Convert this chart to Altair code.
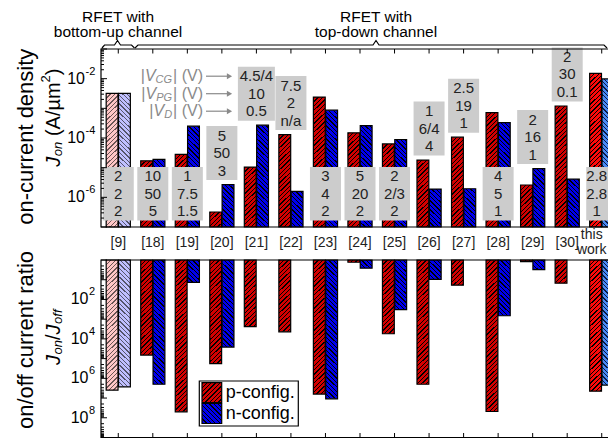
import math
import altair as alt
import pandas as pd

# ---------------- data ----------------
refs = ["[9]", "[18]", "[19]", "[20]", "[21]", "[22]", "[23]", "[24]", "[25]",
        "[26]", "[27]", "[28]", "[29]", "[30]", "this work"]
jon_p = [3.2e-3, 1.7e-5, 2.8e-5, 3.2e-7, 1.05e-5, 1.3e-4, 2.4e-3, 1.5e-4, 6.3e-5,
         1.8e-5, 1.07e-4, 7.2e-4, 2.6e-6, 1.2e-3, 1.5e-2]
jon_n = [3.2e-3, 1.9e-5, 2.5e-4, 2.7e-6, 2.7e-4, 1.6e-6, 8.7e-4, 2.6e-4, 8.9e-5,
         1.9e-6, 1.95e-6, 3.3e-4, 9.3e-6, 4.1e-6, 9.8e-3]
ratio_p = [4.0e6, 6.6e4, 5.0e7, 1.8e5, 2.4e3, 4.4e3, 6.3e6, 1.3, 5.5e3,
           2.0e6, 19, 4.8e7, 1.2, 15, 4.5e6]
ratio_n = [2.7e6, 2.0e6, 13.5, 2.6e4, None, None, 1.1e7, 2.6, 330,
           9.5, None, 670, 3.1, None, 2.2e6]
v_cg = ["2", "10", "1", "5", "4.5/4", "7.5", "3", "5", "2", "1", "2.5", "4", "2", "2", "2.8"]
v_pg = ["2", "50", "7.5", "50", "10", "2", "4", "20", "2/3", "6/4", "19", "5", "16", "30", "2.8"]
v_d = ["2", "5", "1.5", "3", "0.5", "n/a", "2", "2", "2", "4", "1", "1", "1", "0.1", "1"]
box_place = ["low", "low", "low", "high", "high", "high", "low", "low", "low",
             "high", "high", "low", "high", "high", "low"]
top_exp = ["-2", "-4", "-6"]
bot_exp = ["2", "4", "6", "8"]

# ---------------- styling / layout ----------------
FONT = "Liberation Sans"
# (base colour, hatch line colour)
STYLE = {
    "p": ("#d40000", "#000000"), "n": ("#0000ee", "#000000"),
    "p9": ("#ffc6c6", "#6a5555"), "n9": ("#c0c0ff", "#55556a"),
    "pt": ("#ff0a0a", "#000000"), "nt": ("#4a8af5", "#0a1a40"),
}
BOX_GRAY = "#cccccc"
ANN_GRAY = "#8a8a8a"

W = 507                      # keeps the svg at 600 px wide (no rescaling)
TOP_H = 178.0
BOT_Y0, BOT_Y1 = 211.0, 388.5
FRAME_R = 513.5
PX_DEC = TOP_H / 6.0
PX_DEC_B = (BOT_Y1 - BOT_Y0) / 9.0
TOP_DOM = [1e-7, 1e-1]
BOT_DOM = [1, 1e9]
X_RANGE = 518.0
PAD_IN = 0.3
OFF_PAD = 0.04

top_scale = alt.Scale(type="log", domain=TOP_DOM, range=[TOP_H, 0], nice=False)
bot_scale = alt.Scale(type="log", domain=BOT_DOM, range=[BOT_Y0, BOT_Y1], nice=False)
x_scale = alt.Scale(domain=refs, range=[0, X_RANGE], paddingInner=PAD_IN, paddingOuter=PAD_IN / 2)
xoff_scale = alt.Scale(domain=["p", "n"], paddingInner=OFF_PAD)

step = X_RANGE / len(refs)
bandw = step * (1 - PAD_IN)
BAR_W = bandw / (2 - OFF_PAD + OFF_PAD) * (1 - OFF_PAD)


def top_px(v):
    return (-1 - math.log10(v)) * PX_DEC


def px_top(px):
    return 10 ** (-1 - px / PX_DEC)


def hatch(base, line, w, h, slash, period=4.4, lw=1.3):
    """linear gradient with hard stops that draws 45 degree hatching in a w x h box"""
    L = w + h
    s = L / (w * w + h * h)
    stops = []
    k = 0
    while True:
        a = k * period / L
        if a >= 1:
            break
        b = min((k * period + lw) / L, 1.0)
        nxt = min((k + 1) * period / L, 1.0)
        stops += [{"offset": a, "color": line}, {"offset": b, "color": line},
                  {"offset": b, "color": base}, {"offset": nxt, "color": base}]
        k += 1
    g = {"gradient": "linear", "stops": stops, "x1": 0, "x2": s * w}
    if slash:
        g.update({"y1": 0, "y2": s * h})
    else:
        g.update({"y1": 1, "y2": 1 - s * h})
    return g


def style_key(ref, cfg):
    if ref == "[9]":
        return cfg + "9"
    if ref == "this work":
        return cfg + "t"
    return cfg


rows_t, rows_b = [], []
for i, r in enumerate(refs):
    for cfg, v in [("p", jon_p[i]), ("n", jon_n[i])]:
        base, line = STYLE[style_key(r, cfg)]
        h = TOP_H - top_px(v)
        rows_t.append({"ref": r, "cfg": cfg, "v": v, "base": TOP_DOM[0],
                       "grad": hatch(base, line, BAR_W, h, cfg == "p")})
    for cfg, v in [("p", ratio_p[i]), ("n", ratio_n[i])]:
        if v is None:
            continue
        base, line = STYLE[style_key(r, cfg)]
        h = max(math.log10(v) * PX_DEC_B, 0.5)
        rows_b.append({"ref": r, "cfg": cfg, "v": v, "base": BOT_DOM[0],
                       "grad": hatch(base, line, BAR_W, h, cfg == "p")})

box_rows = []
for i, r in enumerate(refs):
    if box_place[i] == "low":
        t_px, b_px = 118.0, 171.5
    else:
        b_px = top_px(max(jon_p[i], jon_n[i])) - 4.5
        t_px = b_px - 54.0
    m_px = (t_px + b_px) / 2
    box_rows.append({"ref": r, "btop": px_top(t_px), "bbot": px_top(b_px), "bmid": px_top(m_px),
                     "l1": v_cg[i], "l2": v_pg[i], "l3": v_d[i], "mpx": m_px})
df_box = pd.DataFrame(box_rows)
mid21 = df_box.loc[df_box.ref == "[21]", "mpx"].iloc[0]

dummy = pd.DataFrame({"a": [0]})


def log_ticks(e0, e1):
    out = []
    for e in range(e0, e1):
        for k in range(1, 10):
            out.append({"v": k * 10.0 ** e, "major": k == 1})
    out.append({"v": 10.0 ** e1, "major": True})
    return pd.DataFrame(out)


ticks_top = log_ticks(-7, -1)
ticks_bot = log_ticks(0, 9)


def X():
    return alt.X("ref:N", scale=x_scale, axis=None)


def txt(t, x, y, **kw):
    kw.setdefault("font", FONT)
    return alt.Chart(dummy).mark_text(**kw).encode(
        x=alt.value(x), y=alt.value(y), text=alt.value(t))


layers = []

# bars (hatched)
for rows, sc in [(rows_t, top_scale), (rows_b, bot_scale)]:
    layers.append(alt.Chart(alt.Data(values=rows)).mark_bar(stroke="black", strokeWidth=1.2).encode(
        x=X(), xOffset=alt.XOffset("cfg:N", scale=xoff_scale),
        y=alt.Y("v:Q", scale=sc, axis=None), y2=alt.Y2("base:Q"),
        fill=alt.Fill("grad:N", scale=None)))

# grey boxes with the three bias values
layers.append(alt.Chart(df_box).mark_bar(fill=BOX_GRAY).encode(
    x=X(),
    y=alt.Y("btop:Q", scale=top_scale, axis=None), y2="bbot:Q",
    size=alt.condition("datum.ref == '[21]'", alt.value(37), alt.value(31))))
for fld, off in [("l1", -17.5), ("l2", 0), ("l3", 17.5)]:
    for flt, ddx in [("datum.ref != 'this work'", 0), ("datum.ref == 'this work'", -5)]:
        layers.append(alt.Chart(df_box).transform_filter(flt).mark_text(
            font=FONT, fontSize=15, baseline="middle", color="#222222", dy=off, dx=ddx).encode(
            x=X(), y=alt.Y("bmid:Q", scale=top_scale, axis=None), text=f"{fld}:N"))

# frames
for y0, y1 in [(0, TOP_H), (BOT_Y0, BOT_Y1)]:
    layers.append(alt.Chart(dummy).mark_rect(fillOpacity=0, stroke="black", strokeWidth=1.2).encode(
        x=alt.value(0), x2=alt.value(FRAME_R), y=alt.value(y0), y2=alt.value(y1)))

# inward log ticks on the left frame edge
for tdf, sc in [(ticks_top, top_scale), (ticks_bot, bot_scale)]:
    for is_major, ln in [(True, 6), (False, 3)]:
        flt = "datum.major" if is_major else "!datum.major"
        layers.append(alt.Chart(tdf).transform_filter(flt).mark_rule(
            color="black", strokeWidth=1).encode(
            x=alt.value(0), x2=alt.value(ln), y=alt.Y("v:Q", scale=sc, axis=None)))

# category ticks (inward)
df_refs = pd.DataFrame({"ref": refs})
layers.append(alt.Chart(df_refs).mark_rule(color="black", strokeWidth=1).encode(
    x=X(), y=alt.value(0), y2=alt.value(4.5)))
layers.append(alt.Chart(df_refs).mark_rule(color="black", strokeWidth=1).encode(
    x=X(), y=alt.value(BOT_Y1 - 4.5), y2=alt.value(BOT_Y1)))

# category labels between panels
layers.append(alt.Chart(df_refs).transform_filter("datum.ref != 'this work'").mark_text(
    font=FONT, fontSize=14, baseline="middle", color="#222222").encode(
    x=X(), y=alt.value(194), text="ref:N"))
for word, yy in [("this", 186), ("work", 200.5)]:
    layers.append(alt.Chart(df_refs).transform_filter("datum.ref == 'this work'").mark_text(
        font=FONT, fontSize=14, baseline="middle", color="#222222", dx=-10).encode(
        x=X(), y=alt.value(yy), text=alt.value(word)))

# y tick labels 10^n
df_te = pd.DataFrame({"v": [1e-2, 1e-4, 1e-6], "e": top_exp})
df_be = pd.DataFrame({"v": [1e2, 1e4, 1e6, 1e8], "e": bot_exp})
layers.append(alt.Chart(df_te).mark_text(font=FONT, fontSize=16, align="right", baseline="middle").encode(
    x=alt.value(-16), y=alt.Y("v:Q", scale=top_scale, axis=None), text=alt.value("10")))
layers.append(alt.Chart(df_te).mark_text(font=FONT, fontSize=11, align="left", baseline="middle", dy=-7).encode(
    x=alt.value(-15.5), y=alt.Y("v:Q", scale=top_scale, axis=None), text="e:N"))
layers.append(alt.Chart(df_be).mark_text(font=FONT, fontSize=16, align="right", baseline="middle").encode(
    x=alt.value(-12.5), y=alt.Y("v:Q", scale=bot_scale, axis=None), text=alt.value("10")))
layers.append(alt.Chart(df_be).mark_text(font=FONT, fontSize=11, align="left", baseline="middle", dy=-7).encode(
    x=alt.value(-12), y=alt.Y("v:Q", scale=bot_scale, axis=None), text="e:N"))

# axis titles (rotated, composed pieces)
TX, JX = -75, -47
layers.append(txt("on-current density", TX, 87.7, angle=270, align="center", fontSize=22))
layers.append(txt("on/off current ratio", TX, 291, angle=270, align="center", fontSize=22))
top_pieces = [("J", 0, 0, 20, "italic"), ("on", 10.5, 4, 13, "italic"),
              ("(A/\u00b5m", 30.6, 0, 20, "normal"), ("2", 84.3, -8, 13, "normal"),
              (")", 91.5, 0, 20, "normal")]
for t, dx, dy, fs, st in top_pieces:
    layers.append(txt(t, JX, 117.7, angle=270, align="left", fontSize=fs, fontStyle=st, dx=dx, dy=dy))
bot_pieces = [("J", 0, 0, 20, "italic"), ("on", 10.5, 4, 13, "italic"),
              ("/", 25, 0, 20, "normal"), ("J", 30.6, 0, 20, "italic"),
              ("off", 41.1, 4, 13, "italic")]
for t, dx, dy, fs, st in bot_pieces:
    layers.append(txt(t, JX, 316, angle=270, align="left", fontSize=fs, fontStyle=st, dx=dx, dy=dy))

# |V| annotation with arrows
vl = pd.DataFrame({"sub": ["CG", "PG", "D"],
                   "py": [mid21 - 17.5, mid21, mid21 + 17.5],
                   "xs": [71.1, 71.1, 71.1],
                   "xv": [54.6, 55.2, 63.2],
                   "xp": [43.9, 44.5, 52.5]})
enc_y = alt.Y("py:Q", scale=None)
layers.append(alt.Chart(vl).mark_text(font=FONT, fontSize=16, align="right", baseline="middle",
                                      color=ANN_GRAY).encode(
    x=alt.X("xp:Q", scale=None), y=enc_y, text=alt.value("|")))
layers.append(alt.Chart(vl).mark_text(font=FONT, fontSize=16, align="right", baseline="middle",
                                      color=ANN_GRAY, fontStyle="italic").encode(
    x=alt.X("xv:Q", scale=None), y=enc_y, text=alt.value("V")))
layers.append(alt.Chart(vl).mark_text(font=FONT, fontSize=11, align="right", baseline="middle",
                                      color=ANN_GRAY, fontStyle="italic", dy=4).encode(
    x=alt.X("xs:Q", scale=None), y=enc_y, text="sub:N"))
layers.append(alt.Chart(vl).mark_text(font=FONT, fontSize=16, align="right", baseline="middle",
                                      color=ANN_GRAY).encode(
    x=alt.value(102), y=enc_y, text=alt.value("| (V)")))
layers.append(alt.Chart(vl).mark_rule(color=ANN_GRAY, strokeWidth=1.2).encode(
    x=alt.value(105), x2=alt.value(127), y=enc_y))
layers.append(alt.Chart(vl).mark_point(shape="triangle-right", filled=True, color=ANN_GRAY,
                                       size=36, opacity=1).encode(
    x=alt.value(128.5), y=enc_y))

# braces above the plot
brace = pd.DataFrame({
    "g": ["a"] * 7 + ["b"] * 7,
    "px": [1, 3.5, 13.5, 16.5, 19.5, 30.5, 33.5, 34, 37, 272, 275, 278, 503, 506],
    "py": [-1, -4, -4, -8.5, -4, -4, -1, -1, -4, -4, -8.5, -4, -4, -1],
})
layers.append(alt.Chart(brace).mark_line(color="black", strokeWidth=1.2).encode(
    x=alt.X("px:Q", scale=None), y=alt.Y("py:Q", scale=None), detail="g:N"))
for xx, l1, l2 in [(17, "RFET with", "bottom-up channel"), (275, "RFET with", "top-down channel")]:
    layers.append(txt(l1, xx, -32.5, fontSize=15.5, baseline="middle", align="center"))
    layers.append(txt(l2, xx, -17, fontSize=15.5, baseline="middle", align="center"))

# legend
layers.append(alt.Chart(dummy).mark_rect(fill="white", stroke="black", strokeWidth=1.2).encode(
    x=alt.value(98.3), x2=alt.value(197.3), y=alt.value(332), y2=alt.value(377)))
sw_w, sw_h = 19.7, 20.0
layers.append(alt.Chart(dummy).mark_rect(
    fill=hatch(*STYLE["p"], sw_w, sw_h, True), stroke="black", strokeWidth=1.2).encode(
    x=alt.value(101), x2=alt.value(101 + sw_w), y=alt.value(333.7), y2=alt.value(333.7 + sw_h)))
layers.append(alt.Chart(dummy).mark_rect(
    fill=hatch(*STYLE["n"], sw_w, sw_h, False), stroke="black", strokeWidth=1.2).encode(
    x=alt.value(101), x2=alt.value(101 + sw_w), y=alt.value(354.5), y2=alt.value(354.5 + sw_h)))
layers.append(txt("p-config.", 124.7, 343.7, fontSize=18, baseline="middle", align="left"))
layers.append(txt("n-config.", 124.7, 365.3, fontSize=18, baseline="middle", align="left"))

chart = alt.layer(*layers).resolve_scale(
    x="independent", y="independent", xOffset="independent"
).properties(
    width=W, height=389,
    padding={"left": 93, "top": 41, "right": 0, "bottom": 0},
    autosize=alt.AutoSizeParams(type="none"),
).configure_view(stroke=None)

chart.save("out.html", embed_options={"renderer": "svg", "actions": False})
